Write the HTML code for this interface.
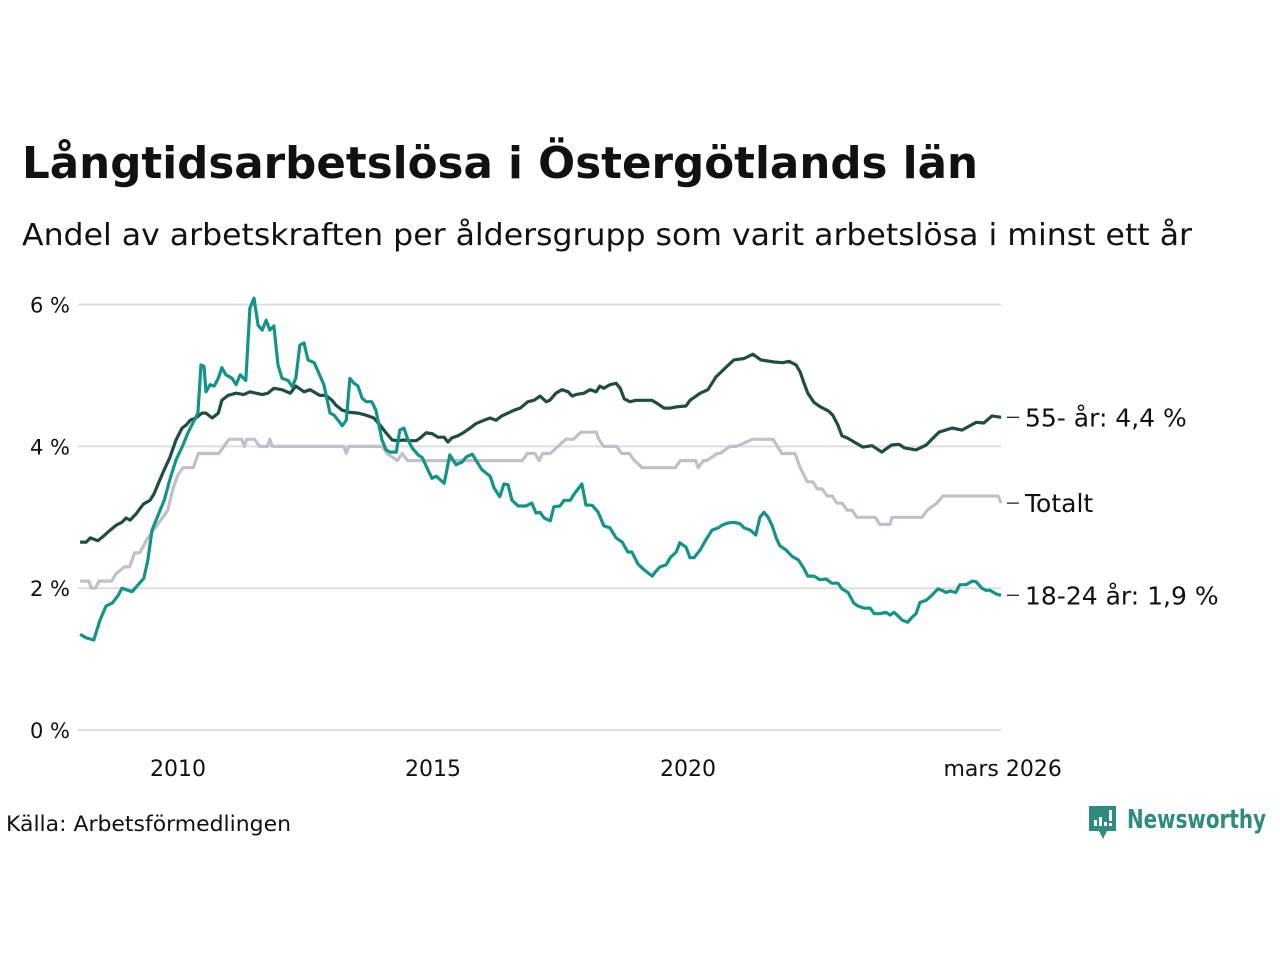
<!DOCTYPE html>
<html><head><meta charset="utf-8"><style>
html,body{margin:0;padding:0;background:#fff;}
svg{display:block;font-family:"DejaVu Sans","Liberation Sans",sans-serif;}
</style></head><body>
<svg id="chart" width="1280" height="960" viewBox="0 0 1280 960" xmlns="http://www.w3.org/2000/svg">
<text x="22" y="178" font-size="44" font-weight="bold" fill="#111" textLength="956" lengthAdjust="spacingAndGlyphs">Långtidsarbetslösa i Östergötlands län</text>
<text x="22" y="245" font-size="30" fill="#111" textLength="1170" lengthAdjust="spacingAndGlyphs">Andel av arbetskraften per åldersgrupp som varit arbetslösa i minst ett år</text>
<g id="grid"></g>
<g id="yticks"></g>
<g id="xticks"></g>
<g id="series"></g>
<g id="labels"></g>
<text x="6" y="831" font-size="21" fill="#111" textLength="285" lengthAdjust="spacingAndGlyphs">Källa: Arbetsförmedlingen</text>
<g>
<path d="M1089 806 h27 v25 h-9 l-4 8 l-4 -8 h-10 z" fill="#2e8b7e"/>
<rect x="1094" y="820" width="3" height="6" fill="#fff"/><rect x="1099" y="817" width="3" height="9" fill="#fff"/><rect x="1104" y="822" width="3" height="4" fill="#fff"/><rect x="1109" y="810" width="3" height="11" fill="#fff"/><rect x="1109" y="823" width="3" height="3" fill="#fff"/>
<text x="1127" y="828" font-size="26" font-weight="bold" fill="#2e8b7e" textLength="139" lengthAdjust="spacingAndGlyphs">Newsworthy</text>
</g>
</svg>
<script>
const yTicks=[0,2,4,6];
const xTickYears=[2010,2015,2020,2026.17];
const xTickLabels=["2010","2015","2020","mars 2026"];
const youngDates=[2008.08,2008.20,2008.35,2008.47,2008.59,2008.71,2008.83,2008.90,2009.02,2009.10,2009.22,2009.33,2009.41,2009.49,2009.61,2009.73,2009.84,2009.96,2010.08,2010.20,2010.32,2010.39,2010.45,2010.51,2010.55,2010.63,2010.71,2010.79,2010.86,2010.94,2011.06,2011.14,2011.22,2011.33,2011.41,2011.49,2011.57,2011.65,2011.73,2011.80,2011.88,2011.96,2012.04,2012.16,2012.24,2012.31,2012.39,2012.47,2012.55,2012.67,2012.75,2012.86,2012.98,2013.06,2013.14,2013.22,2013.30,2013.37,2013.45,2013.53,2013.61,2013.69,2013.80,2013.88,2014.00,2014.08,2014.16,2014.28,2014.35,2014.43,2014.51,2014.59,2014.71,2014.79,2014.90,2014.98,2015.06,2015.14,2015.22,2015.33,2015.45,2015.57,2015.65,2015.77,2015.84,2015.96,2016.12,2016.20,2016.31,2016.39,2016.47,2016.55,2016.67,2016.82,2016.94,2017.02,2017.10,2017.18,2017.30,2017.37,2017.49,2017.57,2017.69,2017.77,2017.92,2018.00,2018.12,2018.24,2018.35,2018.47,2018.59,2018.71,2018.82,2018.90,2019.02,2019.14,2019.30,2019.37,2019.45,2019.57,2019.65,2019.77,2019.84,2019.96,2020.04,2020.12,2020.24,2020.35,2020.47,2020.59,2020.67,2020.78,2020.90,2021.02,2021.10,2021.22,2021.33,2021.41,2021.49,2021.57,2021.65,2021.73,2021.80,2021.92,2022.04,2022.16,2022.27,2022.35,2022.47,2022.59,2022.71,2022.82,2022.94,2023.02,2023.14,2023.25,2023.33,2023.45,2023.57,2023.65,2023.76,2023.88,2023.96,2024.04,2024.12,2024.20,2024.31,2024.39,2024.47,2024.55,2024.67,2024.78,2024.90,2024.98,2025.06,2025.14,2025.25,2025.33,2025.45,2025.57,2025.65,2025.76,2025.84,2025.92,2026.04,2026.14];
const youngValues=[1.35,1.30,1.27,1.55,1.75,1.79,1.90,2.00,1.97,1.95,2.05,2.14,2.40,2.82,3.03,3.24,3.53,3.81,3.99,4.20,4.37,4.47,5.15,5.13,4.77,4.87,4.85,4.96,5.11,5.01,4.96,4.87,5.01,4.93,5.95,6.09,5.71,5.64,5.78,5.64,5.70,5.15,4.96,4.93,4.84,4.96,5.43,5.46,5.22,5.18,5.05,4.87,4.47,4.44,4.37,4.29,4.37,4.96,4.89,4.85,4.68,4.63,4.63,4.51,4.09,3.95,3.92,3.92,4.23,4.26,4.09,3.98,3.88,3.84,3.67,3.55,3.58,3.53,3.48,3.88,3.74,3.78,3.85,3.89,3.81,3.67,3.58,3.41,3.29,3.47,3.46,3.24,3.16,3.16,3.20,3.06,3.07,2.99,2.95,3.15,3.16,3.24,3.24,3.33,3.47,3.17,3.17,3.07,2.88,2.85,2.71,2.65,2.51,2.51,2.34,2.26,2.17,2.24,2.30,2.33,2.43,2.51,2.64,2.58,2.43,2.43,2.54,2.68,2.82,2.85,2.89,2.92,2.93,2.91,2.85,2.82,2.75,3.00,3.07,3.00,2.88,2.71,2.60,2.54,2.45,2.40,2.28,2.17,2.17,2.12,2.13,2.07,2.07,1.99,1.94,1.79,1.75,1.72,1.72,1.64,1.64,1.66,1.62,1.66,1.61,1.55,1.52,1.59,1.64,1.80,1.83,1.90,1.99,1.97,1.94,1.96,1.94,2.05,2.05,2.10,2.09,2.00,1.97,1.97,1.92,1.90];
const oldDates=[2008.08,2008.20,2008.28,2008.43,2008.55,2008.67,2008.79,2008.90,2008.98,2009.06,2009.18,2009.26,2009.33,2009.45,2009.53,2009.61,2009.73,2009.84,2009.96,2010.08,2010.16,2010.24,2010.35,2010.47,2010.55,2010.67,2010.79,2010.86,2010.98,2011.14,2011.29,2011.41,2011.53,2011.65,2011.76,2011.88,2012.04,2012.20,2012.31,2012.47,2012.59,2012.78,2012.90,2013.02,2013.10,2013.22,2013.37,2013.53,2013.69,2013.84,2013.96,2014.08,2014.20,2014.31,2014.43,2014.55,2014.67,2014.75,2014.86,2014.98,2015.10,2015.22,2015.29,2015.37,2015.49,2015.61,2015.73,2015.84,2016.00,2016.12,2016.24,2016.35,2016.47,2016.59,2016.71,2016.86,2016.98,2017.10,2017.22,2017.29,2017.41,2017.53,2017.65,2017.73,2017.80,2017.96,2018.08,2018.20,2018.27,2018.35,2018.47,2018.59,2018.67,2018.75,2018.86,2018.98,2019.14,2019.29,2019.41,2019.53,2019.65,2019.80,2019.96,2020.04,2020.24,2020.39,2020.55,2020.75,2020.90,2021.10,2021.27,2021.43,2021.69,2021.86,2021.98,2022.12,2022.20,2022.27,2022.35,2022.47,2022.59,2022.75,2022.84,2022.94,2023.02,2023.12,2023.43,2023.61,2023.80,2023.99,2024.14,2024.24,2024.47,2024.67,2024.92,2025.18,2025.37,2025.65,2025.80,2025.96,2026.14];
const oldValues=[2.65,2.65,2.71,2.67,2.74,2.82,2.89,2.93,2.99,2.96,3.05,3.13,3.19,3.24,3.33,3.47,3.67,3.84,4.09,4.26,4.30,4.37,4.40,4.47,4.47,4.40,4.47,4.65,4.72,4.75,4.73,4.77,4.75,4.73,4.75,4.82,4.80,4.75,4.85,4.77,4.80,4.72,4.72,4.65,4.58,4.51,4.48,4.47,4.44,4.40,4.30,4.19,4.09,4.08,4.09,4.08,4.08,4.12,4.19,4.18,4.13,4.13,4.06,4.12,4.15,4.20,4.26,4.32,4.37,4.40,4.37,4.43,4.47,4.51,4.54,4.63,4.65,4.71,4.63,4.65,4.75,4.80,4.77,4.71,4.73,4.75,4.80,4.77,4.85,4.82,4.87,4.89,4.82,4.67,4.63,4.65,4.65,4.65,4.60,4.54,4.54,4.56,4.57,4.65,4.75,4.80,4.98,5.12,5.22,5.24,5.30,5.22,5.19,5.18,5.20,5.15,5.05,4.90,4.75,4.62,4.56,4.50,4.44,4.30,4.15,4.12,3.99,4.01,3.92,4.02,4.03,3.98,3.95,4.02,4.20,4.26,4.23,4.34,4.33,4.43,4.41];
const totalDates=[2008.08,2008.25,2008.30,2008.38,2008.45,2008.70,2008.78,2008.95,2009.05,2009.15,2009.25,2009.40,2009.60,2009.80,2009.90,2010.00,2010.10,2010.30,2010.40,2010.80,2010.90,2011.00,2011.25,2011.30,2011.35,2011.50,2011.60,2011.75,2011.80,2011.85,2013.25,2013.30,2013.35,2014.00,2014.10,2014.30,2014.40,2014.50,2016.75,2016.85,2017.00,2017.08,2017.15,2017.30,2017.45,2017.60,2017.75,2017.90,2018.20,2018.25,2018.35,2018.60,2018.70,2018.85,2018.95,2019.10,2019.75,2019.85,2020.15,2020.20,2020.30,2020.37,2020.57,2020.63,2020.82,2020.95,2021.26,2021.67,2021.84,2022.10,2022.20,2022.34,2022.45,2022.53,2022.63,2022.73,2022.83,2022.92,2023.02,2023.12,2023.22,2023.31,2023.67,2023.76,2023.96,2024.00,2024.59,2024.69,2024.88,2025.00,2026.08,2026.14];
const totalValues=[2.1,2.1,2.0,2.0,2.1,2.1,2.2,2.3,2.3,2.5,2.5,2.7,2.9,3.1,3.4,3.6,3.7,3.7,3.9,3.9,4.0,4.1,4.1,4.0,4.1,4.1,4.0,4.0,4.1,4.0,4.0,3.9,4.0,4.0,3.9,3.8,3.9,3.8,3.8,3.9,3.9,3.8,3.9,3.9,4.0,4.1,4.1,4.2,4.2,4.1,4.0,4.0,3.9,3.9,3.8,3.7,3.7,3.8,3.8,3.7,3.8,3.8,3.9,3.9,4.0,4.0,4.1,4.1,3.9,3.9,3.7,3.5,3.5,3.4,3.4,3.3,3.3,3.2,3.2,3.1,3.1,3.0,3.0,2.9,2.9,3.0,3.0,3.1,3.2,3.3,3.3,3.2];

const X0=178, PXY=51, Y0=730, PXV=70.9;
function xs(t){return X0+(t-2010)*PXY;}
function ys(v){return Y0-v*PXV;}
const NS="http://www.w3.org/2000/svg";
function mk(tag,attrs,parent){const e=document.createElementNS(NS,tag);for(const k in attrs)e.setAttribute(k,attrs[k]);parent.appendChild(e);return e;}

const grid=document.getElementById('grid'), yt=document.getElementById('yticks'), xt=document.getElementById('xticks');
yTicks.forEach(v=>{
  const l=mk('line',{x1:78,x2:1001,y1:ys(v),y2:ys(v),stroke:'#dedde2','stroke-width':2},grid);
  
  
  const t=mk('text',{x:70,y:ys(v)+8,'font-size':21,'text-anchor':'end',fill:'#111'},yt);
  t.textContent=v+' %';
  
  
});
xTickYears.forEach((yr,i)=>{
  const t=mk('text',{x:xs(yr),y:776,'font-size':22,'text-anchor':'middle',fill:'#111'},xt);
  t.textContent=xTickLabels[i];
  
  
});
const ser=document.getElementById('series');
function line(dates,vals,color,name){
  const d=dates.map((t,i)=>(i?'L':'M')+xs(t).toFixed(1)+' '+ys(vals[i]).toFixed(1)).join(' ');
  const p=mk('path',{d:d,fill:'none',stroke:color,'stroke-width':3.2,'stroke-linejoin':'round'},ser);
  
  
}
line(totalDates,totalValues,'#c2bfcc','line-totalt');
line(oldDates,oldValues,'#1f4d45','line-55-plus');
line(youngDates,youngValues,'#139488','line-18-24');

const lab=document.getElementById('labels');
function label(dates,vals,text,name){
  const y=ys(vals[vals.length-1]);
  const l=mk('line',{x1:1007,x2:1019,y1:y,y2:y,stroke:'#222','stroke-width':1.3},lab);
  
  
  const t=mk('text',{x:1025,y:y+9,'font-size':25,fill:'#111'},lab);
  t.textContent=text;
  
  
}
label(oldDates,oldValues,'55- år: 4,4 %','label-55-plus');
label(totalDates,totalValues,'Totalt','label-totalt');
label(youngDates,youngValues,'18-24 år: 1,9 %','label-18-24');
</script>
</body></html>
